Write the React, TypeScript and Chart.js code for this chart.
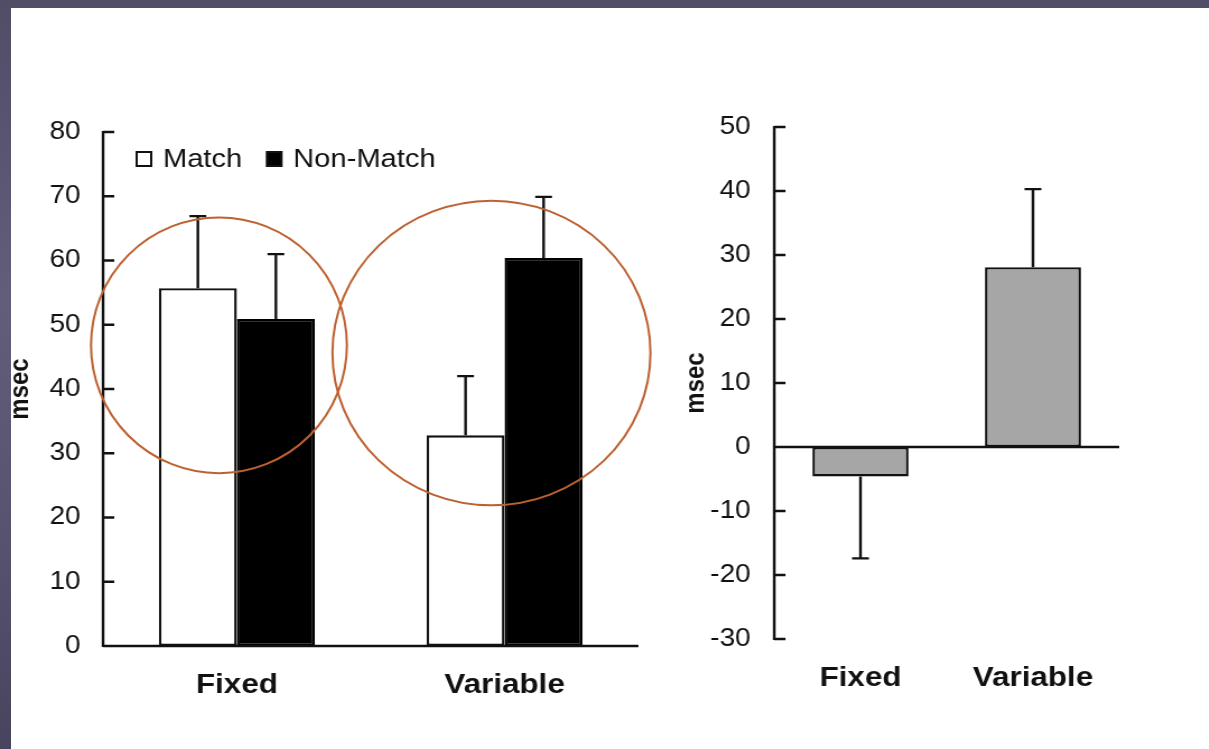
import React, { useEffect, useRef } from "react";
import { Chart, registerables } from "chart.js";

Chart.register(...registerables);

// ---------- data ----------
const categories = ["Fixed", "Variable"];
const seriesNames = ["Match", "Non-Match"];
const matchValues = [55.7, 32.8];
const matchErrors = [11.2, 9.2];
const nonMatchValues = [50.9, 60.4];
const nonMatchErrors = [10.1, 9.5];
const diffValues = [-4.6, 28.1];
const diffErrors = [12.8, 12.2];
const leftRange = [0, 80];
const rightRange = [-30, 50];
const tickStep = 10;
const axisTitle = "msec";
// highlight ellipses in data units (category index, value; radii in category / value units)
const highlightCategory = [-0.067, 0.951];
const highlightValue = [46.8, 45.6];
const highlightRadiusCat = [0.478, 0.594];
const highlightRadiusVal = [19.9, 23.7];

// ---------- styles ----------
const STRETCH = 1.12; // the original figure is horizontally stretched
const INK = "#111111";
const FONT = '"Liberation Sans", Arial, sans-serif';
const TICK_SIZE = 25;
const LEGEND_SIZE = 26;
const LABEL_SIZE = 28;
const TITLE_SIZE = 24;
const LINE = 2.4;

const axesAndErrors = {
  id: "axesAndErrors",
  afterDatasetsDraw(chart: any) {
    const { ctx, chartArea, scales } = chart;
    const { left, right, top, bottom } = chartArea;
    const y = scales.y;
    ctx.save();
    ctx.strokeStyle = INK;
    ctx.lineWidth = LINE;
    // error bars
    chart.data.datasets.forEach((ds: any, i: number) => {
      const meta = chart.getDatasetMeta(i);
      meta.data.forEach((el: any, j: number) => {
        const v = ds.data[j];
        const e = ds.errors[j];
        const end = y.getPixelForValue(v + Math.sign(v) * e);
        ctx.beginPath();
        ctx.moveTo(el.x, el.y);
        ctx.lineTo(el.x, end);
        ctx.moveTo(el.x - 7.5, end);
        ctx.lineTo(el.x + 7.5, end);
        ctx.stroke();
      });
    });
    // y axis line + inward ticks
    ctx.beginPath();
    ctx.moveTo(left, top - 1);
    ctx.lineTo(left, bottom + 1);
    y.ticks.forEach((t: any) => {
      const py = y.getPixelForValue(t.value);
      ctx.moveTo(left, py);
      ctx.lineTo(left + 10, py);
    });
    // baseline at zero
    const zy = y.getPixelForValue(0);
    ctx.moveTo(left, zy);
    ctx.lineTo(right, zy);
    ctx.stroke();
    ctx.restore();
  },
};

const legendPlugin = {
  id: "boxLegend",
  afterDraw(chart: any) {
    const { ctx, chartArea } = chart;
    ctx.save();
    ctx.font = `${LEGEND_SIZE}px ${FONT}`;
    ctx.textBaseline = "middle";
    let x = chartArea.left + 30;
    const cy = chartArea.top + 27;
    chart.data.datasets.forEach((ds: any) => {
      const w = 13;
      const h = 14;
      ctx.fillStyle = ds.backgroundColor;
      ctx.fillRect(x, cy - h / 2, w, h);
      ctx.strokeStyle = INK;
      ctx.lineWidth = 2;
      ctx.strokeRect(x, cy - h / 2, w, h);
      ctx.fillStyle = INK;
      const tx = x + w + 10.5;
      ctx.fillText(ds.label, tx, cy + 1);
      x = tx + ctx.measureText(ds.label).width + 22;
    });
    ctx.restore();
  },
};

const circlePlugin = {
  id: "highlightCircles",
  afterDraw(chart: any) {
    const { ctx, scales } = chart;
    const { x, y } = scales;
    ctx.save();
    ctx.strokeStyle = "#bc6130";
    ctx.lineWidth = 2;
    highlightCategory.forEach((c, i) => {
      const cx = x.getPixelForValue(c);
      const cy = y.getPixelForValue(highlightValue[i]);
      const rx = x.getPixelForValue(c + highlightRadiusCat[i]) - cx;
      const ry = cy - y.getPixelForValue(highlightValue[i] + highlightRadiusVal[i]);
      ctx.beginPath();
      ctx.ellipse(cx, cy, rx, ry, 0, 0, Math.PI * 2);
      ctx.stroke();
    });
    ctx.restore();
  },
};

function makeOptions(cfg: {
  range: number[];
  padTop: number;
  padRight: number;
  yWidth: number;
  xHeight: number;
  tickPad: number;
  titlePad: number;
  labelPad: number;
}) {
  return {
    responsive: false,
    animation: false as const,
    devicePixelRatio: 1,
    layout: { padding: { top: cfg.padTop, right: cfg.padRight, left: 0, bottom: 0 } },
    plugins: { legend: { display: false }, tooltip: { enabled: false } },
    scales: {
      x: {
        type: "category" as const,
        offset: true,
        grid: { display: false, drawTicks: false },
        border: { display: false },
        ticks: {
          color: INK,
          font: { family: FONT, size: LABEL_SIZE, weight: "bold" as const },
          padding: cfg.labelPad,
          maxRotation: 0,
          autoSkip: false,
        },
        afterFit: (s: any) => {
          s.height = cfg.xHeight;
        },
      },
      y: {
        min: cfg.range[0],
        max: cfg.range[1],
        grid: { display: false, drawTicks: false },
        border: { display: false },
        ticks: {
          stepSize: tickStep,
          color: INK,
          font: { family: FONT, size: TICK_SIZE },
          padding: cfg.tickPad,
        },
        title: {
          display: true,
          text: axisTitle,
          color: INK,
          font: { family: FONT, size: TITLE_SIZE, weight: "bold" as const },
          padding: { top: cfg.titlePad, bottom: 0 },
        },
        afterFit: (s: any) => {
          s.width = cfg.yWidth;
        },
      },
    },
  };
}

function Stretched(props: { left: number; width: number; children: any }) {
  return (
    <div
      style={{
        position: "absolute",
        left: props.left,
        top: 0,
        width: props.width,
        height: 749,
        transform: `scaleX(${STRETCH})`,
        transformOrigin: "0 0",
      }}
    >
      {props.children}
    </div>
  );
}

function LeftChart() {
  const ref = useRef<HTMLCanvasElement>(null);
  useEffect(() => {
    const chart = new Chart(ref.current!, {
      type: "bar",
      data: {
        labels: categories,
        datasets: [
          {
            label: seriesNames[0],
            data: matchValues,
            errors: matchErrors,
            backgroundColor: "#ffffff",
            borderColor: INK,
            borderWidth: LINE,
            borderSkipped: false,
            categoryPercentage: 0.583,
            barPercentage: 1,
          } as any,
          {
            label: seriesNames[1],
            data: nonMatchValues,
            errors: nonMatchErrors,
            backgroundColor: "#000000",
            borderColor: "#000000",
            borderWidth: LINE,
            borderSkipped: false,
            categoryPercentage: 0.583,
            barPercentage: 1,
          } as any,
        ],
      },
      options: makeOptions({
        range: leftRange,
        padTop: 132,
        padRight: 19,
        yWidth: 92,
        xHeight: 103,
        tickPad: 20,
        titlePad: 4,
        labelPad: 22,
      }) as any,
      plugins: [axesAndErrors, legendPlugin, circlePlugin],
    });
    return () => chart.destroy();
  }, []);
  return (
    <Stretched left={0} width={589}>
      <canvas ref={ref} width={589} height={749} style={{ width: 589, height: 749 }} />
    </Stretched>
  );
}

function RightChart() {
  const ref = useRef<HTMLCanvasElement>(null);
  useEffect(() => {
    const chart = new Chart(ref.current!, {
      type: "bar",
      data: {
        labels: categories,
        datasets: [
          {
            label: "Difference",
            data: diffValues,
            errors: diffErrors,
            backgroundColor: "#a6a6a6",
            borderColor: INK,
            borderWidth: LINE,
            borderSkipped: false,
            categoryPercentage: 0.557,
            barPercentage: 1,
          } as any,
        ],
      },
      options: makeOptions({
        range: rightRange,
        padTop: 127,
        padRight: 80,
        yWidth: 102,
        xHeight: 110,
        tickPad: 21,
        titlePad: 18,
        labelPad: 22,
      }) as any,
      plugins: [axesAndErrors],
    });
    return () => chart.destroy();
  }, []);
  return (
    <Stretched left={660} width={490}>
      <canvas ref={ref} width={490} height={749} style={{ width: 490, height: 749 }} />
    </Stretched>
  );
}

export default function App() {
  return (
    <div
      style={{
        position: "absolute",
        left: 0,
        top: 0,
        width: 1209,
        height: 749,
        background: "#ffffff",
        overflow: "hidden",
      }}
    >
      <LeftChart />
      <RightChart />
      <div
        style={{
          position: "absolute",
          left: 0,
          top: 0,
          width: 1209,
          height: 8,
          background: "#524e68",
        }}
      />
      <div
        style={{
          position: "absolute",
          left: 0,
          top: 0,
          width: 11,
          height: 749,
          background: "linear-gradient(to bottom, #514d67 0%, #625d7b 40%, #58536f 70%, #48445e 100%)",
        }}
      />
    </div>
  );
}
